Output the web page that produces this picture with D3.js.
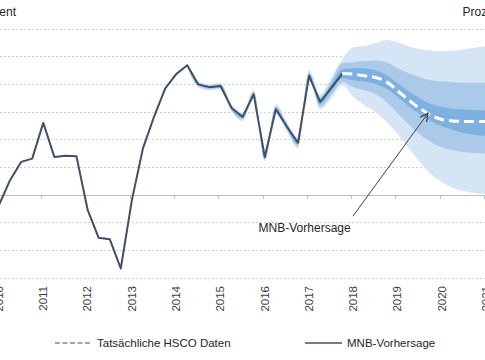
<!DOCTYPE html>
<html><head><meta charset="utf-8">
<script src="https://cdn.jsdelivr.net/npm/d3@7/dist/d3.min.js"></script>
<style>
html,body{margin:0;padding:0;background:#fff;}
svg{display:block;font-family:"Liberation Sans",Arial,sans-serif;}
</style></head>
<body>
<svg id="chart" width="485" height="360"></svg>
<script>
// ---- data ----
const startYear = 2010;
const years = [2010,2011,2012,2013,2014,2015,2016,2017,2018,2019,2020,2021];
const yTicks = [-3,-2,-1,0,1,2,3,4,5,6];
// historical series 2010Q1 .. 2017Q4
const history = [-0.36,0.54,1.20,1.32, 2.61,1.38,1.42,1.40, -0.52,-1.54,-1.59,-2.65,
  -0.18,1.69,2.83,3.85, 4.37,4.69,4.00,3.90, 3.94,3.15,2.83,3.64, 1.38,3.10,2.47,1.89,
  4.31,3.37,3.87,4.39];
// uncertainty half-widths around history, 2014Q2 .. 2017Q3
const histHalfOuter = [0.06,0.10,0.12,0.12,0.14,0.16,0.16,0.17,0.18,0.19,0.20,0.20,0.28,0.38];
const histHalfMid   = [0.04,0.06,0.07,0.07,0.08,0.09,0.09,0.10,0.10,0.11,0.12,0.12,0.17,0.25];
const histHalfInner = [0.02,0.03,0.03,0.03,0.04,0.04,0.04,0.05,0.05,0.05,0.06,0.06,0.08,0.12];
// forecast 2017Q4 .. 2021Q1
const forecast   = [4.39,4.37,4.31,4.25,4.09,3.77,3.43,3.13,2.89,2.73,2.68,2.66,2.66,2.66];
const outerHigh  = [4.91,5.34,5.38,5.49,5.60,5.52,5.38,5.27,5.22,5.20,5.22,5.27,5.32,5.38];
const outerLow   = [3.97,3.54,3.25,3.00,2.64,2.20,1.70,1.19,0.76,0.47,0.25,0.14,0.07,0.04];
const midHigh    = [4.77,4.80,4.84,4.86,4.80,4.58,4.40,4.26,4.15,4.10,4.08,4.06,4.06,4.06];
const midLow     = [4.08,3.90,3.79,3.65,3.36,2.96,2.56,2.20,1.91,1.73,1.62,1.55,1.52,1.50];
const innerHigh  = [4.55,4.58,4.57,4.51,4.33,4.04,3.75,3.50,3.29,3.18,3.12,3.09,3.07,3.07];
const innerLow   = [4.22,4.15,4.10,4.01,3.83,3.54,3.21,2.92,2.67,2.49,2.35,2.24,2.17,2.13];
const histBandStart = 17;  // 2014Q2
const forecastStart = 31;  // 2017Q4
const legendItems = [
  {label:"Tatsächliche HSCO Daten", type:"dash"},
  {label:"MNB-Vorhersage", type:"solid"}
];
const annotation = {text:"MNB-Vorhersage", tx:2016.94, tv:-1.34, from:[2018.03,-0.76], to:[2019.725,2.96]};

// ---- layout ----
const W = 485, H = 360;
const svg = d3.select("#chart");
const x = d3.scaleLinear().domain([2010, 2021]).range([-2.8, 484.5]);
const y = d3.scaleLinear().domain([-3, 6]).range([278.2, 29]);
const tOf = i => startYear + i / 4 + 0.04;

const colLine = "#3f4f66";
const colOuter = "#d5e5f5", colMid = "#abcaea", colInner = "#7eb0e0";

// gridlines
svg.append("g").selectAll("line").data(yTicks.filter(v => v !== 0)).join("line")
  .attr("x1", 0).attr("x2", W).attr("y1", d => y(d)).attr("y2", d => y(d))
  .attr("stroke", "#cfcfcf").attr("stroke-width", 1).attr("stroke-dasharray", "2,2")
  .attr("shape-rendering", "crispEdges");

// bands
function bandRows(hOut, hMid, hIn, fHi, fLo, kind) {
  const rows = [];
  for (let k = 0; k < hOut.length; k++) {
    const i = histBandStart + k, v = history[i];
    const hw = kind === "outer" ? hOut[k] : kind === "mid" ? hMid[k] : hIn[k];
    rows.push({t: tOf(i), lo: v - hw, hi: v + hw});
  }
  for (let k = 0; k < forecast.length; k++) {
    rows.push({t: tOf(forecastStart + k), lo: fLo[k], hi: fHi[k]});
  }
  return rows;
}
const area = d3.area().x(d => x(d.t)).y0(d => y(d.lo)).y1(d => y(d.hi)).curve(d3.curveMonotoneX);
const bands = [
  {rows: bandRows(histHalfOuter, histHalfMid, histHalfInner, outerHigh, outerLow, "outer"), c: colOuter},
  {rows: bandRows(histHalfOuter, histHalfMid, histHalfInner, midHigh, midLow, "mid"), c: colMid},
  {rows: bandRows(histHalfOuter, histHalfMid, histHalfInner, innerHigh, innerLow, "inner"), c: colInner}
];
svg.append("g").selectAll("path").data(bands).join("path")
  .attr("d", d => area(d.rows)).attr("fill", d => d.c);

// zero axis
svg.append("line").attr("x1", 0).attr("x2", W).attr("y1", y(0)).attr("y2", y(0))
  .attr("stroke", "#bfbfbf").attr("stroke-width", 1).attr("shape-rendering", "crispEdges");
svg.append("g").selectAll("line").data(years).join("line")
  .attr("x1", d => x(d)).attr("x2", d => x(d)).attr("y1", y(0)).attr("y2", y(0) + 4)
  .attr("stroke", "#bfbfbf").attr("stroke-width", 1).attr("shape-rendering", "crispEdges");

// year labels
svg.append("g").selectAll("text").data(years).join("text")
  .attr("transform", d => `translate(${x(d) + 1.5},286) rotate(-90)`)
  .attr("text-anchor", "end").attr("dy", "0.35em")
  .attr("font-size", "11.5px").attr("fill", "#404040").text(d => d);

// historical line
const line = d3.line().x(d => x(d.t)).y(d => y(d.v));
svg.append("path")
  .attr("d", line(history.map((v, i) => ({t: tOf(i), v}))))
  .attr("fill", "none").attr("stroke", colLine).attr("stroke-width", 2).attr("stroke-linejoin", "round");

// forecast dashed white
svg.append("path")
  .attr("d", d3.line().x(d => x(d.t)).y(d => y(d.v)).curve(d3.curveMonotoneX)(forecast.map((v, k) => ({t: tOf(forecastStart + k), v}))))
  .attr("fill", "none").attr("stroke", "#fff").attr("stroke-width", 3).attr("stroke-dasharray", "10,5");

// annotation
svg.append("defs").append("marker").attr("id", "arr").attr("viewBox", "-10 -6 12 12")
  .attr("refX", 0).attr("refY", 0).attr("markerWidth", 12).attr("markerHeight", 12)
  .attr("markerUnits", "userSpaceOnUse").attr("orient", "auto")
  .append("path").attr("d", "M-8,-4 L0,0 L-8,4").attr("fill", "none").attr("stroke", "#404040").attr("stroke-width", 1.2);
svg.append("line")
  .attr("x1", x(annotation.from[0])).attr("y1", y(annotation.from[1]))
  .attr("x2", x(annotation.to[0])).attr("y2", y(annotation.to[1]))
  .attr("stroke", "#404040").attr("stroke-width", 1).attr("marker-end", "url(#arr)");
svg.append("text").attr("x", x(annotation.tx)).attr("y", y(annotation.tv))
  .attr("text-anchor", "middle").attr("font-size", "12px").attr("fill", "#262626").text(annotation.text);

// axis titles
svg.append("text").attr("x", 16).attr("y", 16).attr("text-anchor", "end")
  .attr("font-size", "12px").attr("fill", "#262626").text("Prozent");
svg.append("text").attr("x", 462.5).attr("y", 16).attr("text-anchor", "start")
  .attr("font-size", "12px").attr("fill", "#262626").text("Prozent");

// legend
const lg = svg.append("g");
const legendPos = [{x0: 55, x1: 92, tx: 97}, {x0: 305, x1: 342, tx: 347}];
legendItems.forEach((it, k) => {
  const p = legendPos[k];
  lg.append("line").attr("x1", p.x0).attr("x2", p.x1).attr("y1", 343).attr("y2", 343)
    .attr("stroke", it.type === "dash" ? "#a6a6a6" : colLine).attr("stroke-width", it.type === "dash" ? 2 : 1.6)
    .attr("stroke-dasharray", it.type === "dash" ? "5,2.5" : null);
  lg.append("text").attr("x", p.tx).attr("y", 343).attr("dy", "0.35em")
    .attr("font-size", "11.5px").attr("fill", "#262626").text(it.label);
});
</script>
</body></html>
